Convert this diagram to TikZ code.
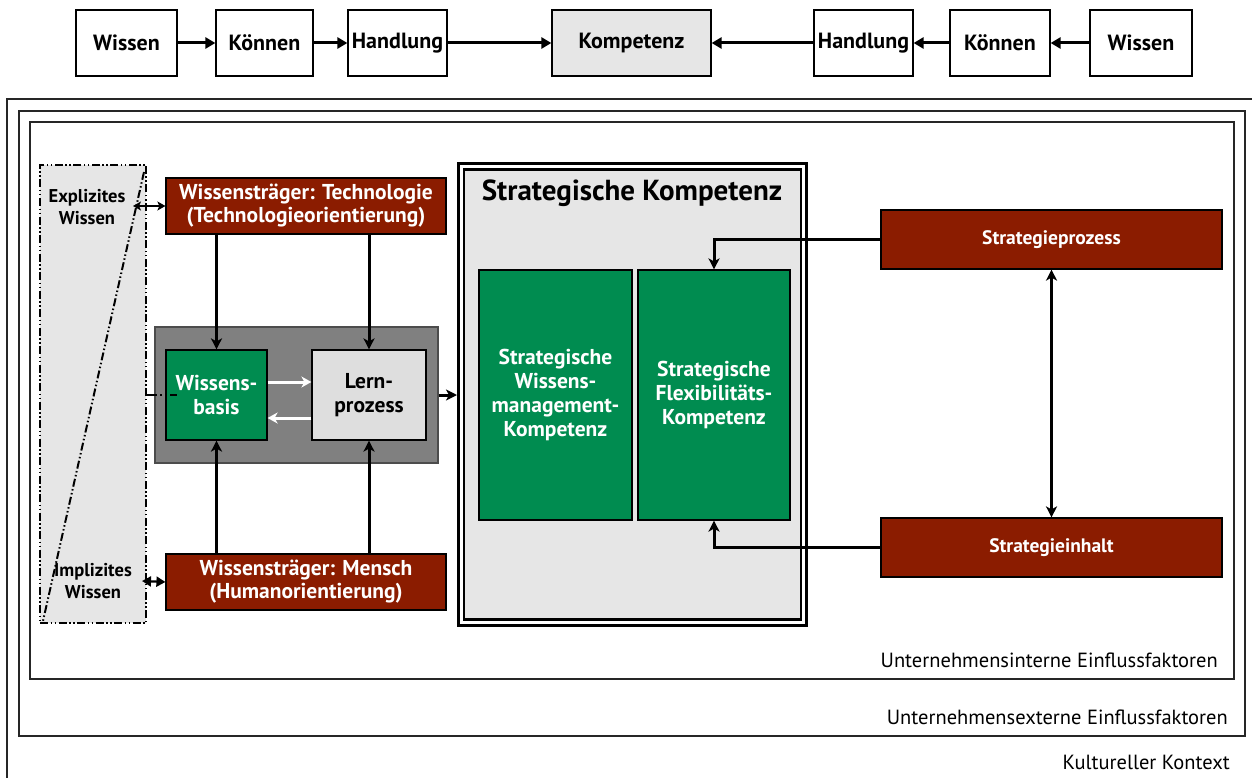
\documentclass[tikz,border=0pt]{standalone}
\usepackage{fontspec}
\setmainfont{PT Sans}
\usetikzlibrary{arrows.meta}
\definecolor{dred}{HTML}{8B1C00}
\definecolor{dgreen}{HTML}{008C50}
\definecolor{lgray}{HTML}{E6E6E6}
\definecolor{mgray}{HTML}{808080}
\definecolor{lpgray}{HTML}{DEDEDE}
\tikzset{
 topbox/.style={draw, line width=1.2pt, minimum height=66, inner sep=0pt, font=\bfseries\fontsize{22}{24}\selectfont, fill=white},
 redbox/.style={draw, line width=1.2pt, fill=dred, text=white, inner sep=0pt, align=center, font=\bfseries\fontsize{21.5}{23}\selectfont},
 greenbox/.style={draw, line width=1.2pt, fill=dgreen, text=white, inner sep=0pt, align=center, font=\bfseries\fontsize{21.5}{24}\selectfont},
 arr/.style={line width=3pt, -{Stealth[length=11pt,width=11pt,inset=3pt]}},
 darr/.style={line width=3pt, {Stealth[length=11pt,width=11pt,inset=3pt]}-{Stealth[length=11pt,width=11pt,inset=3pt]}},
 warr/.style={line width=3pt, white, -{Stealth[length=10pt,width=11pt,inset=3pt]}},
 toparr/.style={line width=3pt, -{Triangle[length=10pt,width=11pt]}},
 frameline/.style={line width=1.6pt, draw=black!85},
 footlbl/.style={anchor=east, inner sep=0pt, font=\fontsize{20.5}{24}\selectfont},
 sidelbl/.style={inner sep=0pt, align=center, font=\bfseries\fontsize{18.5}{22}\selectfont},
 dashdotdot/.style={dash pattern=on 8pt off 2.5pt on 1.5pt off 2.5pt on 1.5pt off 2.5pt},
}
\begin{document}
\begin{tikzpicture}[x=1pt,y=-1pt]
\useasboundingbox (0,0) rectangle (1252,778);
% frames
\draw[frameline] (7,99) rectangle (1262,790);
\draw[frameline] (19,111) rectangle (1245,736);
\draw[frameline] (30,122) rectangle (1234,679);
\node[footlbl] (lint) at (1218,660) {Unternehmensinterne Einflussfaktoren};
\node[footlbl] (lext) at (1228,717) {Unternehmensexterne Einflussfaktoren};
\node[footlbl] (lkul) at (1230,762) {Kultureller Kontext};
% top row
\node[topbox, minimum width=101] (w1) at (126.5,43) {Wissen};
\node[topbox, minimum width=97] (k1) at (264.5,43) {Können};
\node[topbox, minimum width=99] (h1) at (397.5,43) {Handlung};
\node[topbox, minimum width=159, fill=lgray] (komp) at (631.5,43) {Kompetenz};
\node[topbox, minimum width=99] (h2) at (863.5,43) {Handlung};
\node[topbox, minimum width=100] (k2) at (1000,43) {Können};
\node[topbox, minimum width=102] (w2) at (1141,43) {Wissen};
\draw[toparr] (w1) -- (k1);
\draw[toparr] (k1) -- (h1);
\draw[toparr] (h1) -- (komp);
\draw[toparr] (w2) -- (k2);
\draw[toparr] (k2) -- (h2);
\draw[toparr] (h2) -- (komp);
% left panel
\node[draw, fill=lgray, line width=2.5pt, dashdotdot, minimum width=106, minimum height=458, inner sep=0pt] (panel) at (93,394) {};
\coordinate (dtop) at (144,172);
\coordinate (dbot) at (43,621);
\draw[line width=2pt, dashdotdot] (dtop) -- (dbot);
\node[sidelbl] (expl) at (87,207) {Explizites\\Wissen};
\node[sidelbl] (impl) at (93,581) {Implizites\\Wissen};
% red boxes left
\node[redbox, minimum width=280, minimum height=56] (tech) at (306,206) {Wissensträger: Technologie\\(Technologieorientierung)};
\node[redbox, minimum width=280, minimum height=56] (mensch) at (306,582) {Wissensträger: Mensch\\(Humanorientierung)};
\coordinate (expR) at (133,206);
\coordinate (impR) at (142,581);
\draw[line width=2.2pt, {Stealth[length=8pt,width=9pt,inset=2pt]}-{Stealth[length=8pt,width=9pt,inset=2pt]}] (expR) -- (tech.west);
\draw[line width=2.2pt, {Stealth[length=9pt,width=10pt,inset=0pt]}-{Stealth[length=9pt,width=10pt,inset=0pt]}] (impR) -- (mensch.west);
% container
\node[draw=black!70, line width=1.2pt, fill=mgray, minimum width=283, minimum height=136, inner sep=0pt] (cont) at (296.5,395) {};
\node[greenbox, minimum width=101, minimum height=90] (wb) at (216.5,395) {Wissens-\\basis};
\node[draw, line width=1.2pt, fill=lpgray, minimum width=114, minimum height=90, inner sep=0pt, align=center, font=\bfseries\fontsize{21.5}{24}\selectfont] (lp) at (369,395) {Lern-\\prozess};
\draw[warr] (wb.east |- 0,382) -- (lp.west |- 0,382);
\draw[warr] (lp.west |- 0,418) -- (wb.east |- 0,418);
\draw[line width=2.5pt, dash pattern=on 10pt off 3pt on 2pt off 3pt on 2pt off 3pt] (panel.east |- wb) -- ([xshift=12pt]wb.west);
\draw[arr] (tech.south -| wb) -- (wb.north);
\draw[arr] (tech.south -| lp) -- (lp.north);
\draw[arr] (mensch.north -| wb) -- (wb.south);
\draw[arr] (mensch.north -| lp) -- (lp.south);
% strategic competence
\node[draw, line width=3pt, fill=white, minimum width=348, minimum height=461, inner sep=0pt] (sk) at (632.5,394.5) {};
\node[draw, line width=2.5pt, fill=lgray, minimum width=337, minimum height=450, inner sep=0pt] (ski) at (632.5,394.5) {};
\node[inner sep=0pt, font=\bfseries\fontsize{29}{32}\selectfont] (skt) at (632,193) {Strategische Kompetenz};
\node[greenbox, minimum width=153, minimum height=250] (swm) at (555.5,395) {Strategische\\Wissens-\\management-\\Kompetenz};
\node[greenbox, minimum width=152, minimum height=250] (sfk) at (714,395) {Strategische\\Flexibilitäts-\\Kompetenz};
\draw[arr] (cont.east) -- (cont.east -| sk.west);
% right boxes
\node[redbox, minimum width=341, minimum height=59, font=\bfseries\fontsize{19.5}{22}\selectfont] (sp) at (1051.5,239.5) {Strategieprozess};
\node[redbox, minimum width=341, minimum height=59, font=\bfseries\fontsize{19.5}{22}\selectfont] (si) at (1051.5,547.5) {Strategieinhalt};
\draw[arr] (sp.west) -| (sfk.north);
\draw[arr] (si.west) -| (sfk.south);
\draw[darr] (sp.south) -- (si.north);
\end{tikzpicture}
\end{document}
